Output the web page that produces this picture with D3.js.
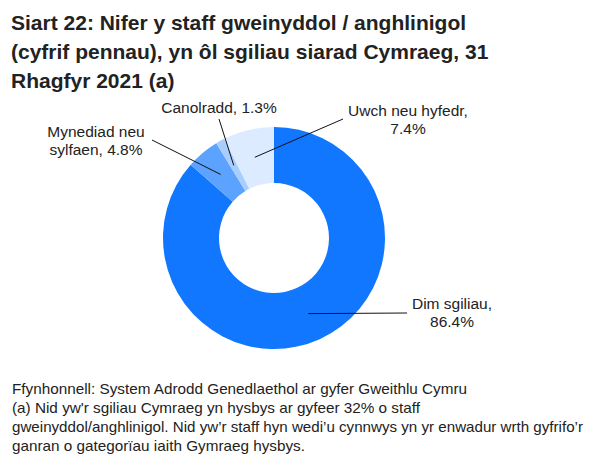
<!DOCTYPE html>
<html>
<head>
<meta charset="utf-8">
<script src="https://cdn.jsdelivr.net/npm/d3@7"></script>
<style>
  body { margin: 0; background: #fff; }
  text { font-family: Arial, "Liberation Sans", sans-serif; fill: #222; }
</style>
</head>
<body>
<div id="chart"></div>
<script>
// data
const categories = ['Dim sgiliau', 'Mynediad neu sylfaen', 'Canolradd', 'Uwch neu hyfedr'];
const values = [86.4, 4.8, 1.3, 7.4];
const colours = ['#1177ff', '#5ba3ff', '#a8cdff', '#dcebff'];
const labelLines = [
  ['Dim sgiliau,', '86.4%'],
  ['Mynediad neu', 'sylfaen, 4.8%'],
  ['Canolradd, 1.3%'],
  ['Uwch neu hyfedr,', '7.4%']
];
const titleLines = [
  'Siart 22: Nifer y staff gweinyddol / anghlinigol',
  '(cyfrif pennau), yn ôl sgiliau siarad Cymraeg, 31',
  'Rhagfyr 2021 (a)'
];
const noteLines = [
  'Ffynhonnell: System Adrodd Genedlaethol ar gyfer Gweithlu Cymru',
  '(a) Nid yw\'r sgiliau Cymraeg yn hysbys ar gyfeer 32% o staff',
  'gweinyddol/anghlinigol. Nid yw’r staff hyn wedi’u cynnwys yn yr enwadur wrth gyfrifo’r',
  'ganran o gategorïau iaith Gymraeg hysbys.'
];

const width = 596, height = 473;
const cx = 274, cy = 238;
const outer = 111, inner = 55;

// where each label sits: end of leader line, text centre, first baseline
const labelPos = [
  { lx: 407, ly: 313, tx: 452, ty: 309 },
  { lx: 152, ly: 140, tx: 96, ty: 137 },
  { lx: 219, ly: 119, tx: 219, ty: 113 },
  { lx: 343, ly: 119, tx: 408, ty: 116 }
];
// the footnote font in the original is narrower, fit each line to its width
const noteWidths = [455, 408, 571, 293];

const svg = d3.select('#chart').append('svg')
  .attr('width', width)
  .attr('height', height);

// title
svg.append('text')
  .attr('x', 11)
  .attr('y', 30)
  .style('font-size', '21px')
  .style('font-weight', 'bold')
  .selectAll('tspan')
  .data(titleLines)
  .join('tspan')
  .attr('x', 11)
  .attr('dy', (d, i) => i === 0 ? 0 : 29)
  .text(d => d);

const pie = d3.pie().sort(null).value(d => d)(values);
const arc = d3.arc().innerRadius(inner).outerRadius(outer);

const g = svg.append('g').attr('transform', `translate(${cx},${cy})`);

g.selectAll('path')
  .data(pie)
  .join('path')
  .attr('d', arc)
  .attr('fill', (d, i) => colours[i]);

// leader lines from slice centroid to label
g.selectAll('line')
  .data(pie)
  .join('line')
  .attr('x1', d => arc.centroid(d)[0])
  .attr('y1', d => arc.centroid(d)[1])
  .attr('x2', (d, i) => labelPos[i].lx - cx)
  .attr('y2', (d, i) => labelPos[i].ly - cy)
  .attr('stroke', '#111')
  .attr('stroke-width', 1);

svg.selectAll('text.lbl')
  .data(categories)
  .join('text')
  .attr('class', 'lbl')
  .attr('text-anchor', 'middle')
  .style('font-size', '15.5px')
  .each(function (d, i) {
    d3.select(this).selectAll('tspan')
      .data(labelLines[i])
      .join('tspan')
      .attr('x', labelPos[i].tx)
      .attr('y', (t, j) => labelPos[i].ty + j * 18)
      .text(t => t);
  });

// footnotes
svg.append('g')
  .selectAll('text')
  .data(noteLines)
  .join('text')
  .attr('x', 12)
  .attr('y', (d, i) => 394 + i * 19)
  .attr('textLength', (d, i) => noteWidths[i])
  .attr('lengthAdjust', 'spacingAndGlyphs')
  .style('font-size', '15px')
  .text(d => d);
</script>
</body>
</html>
